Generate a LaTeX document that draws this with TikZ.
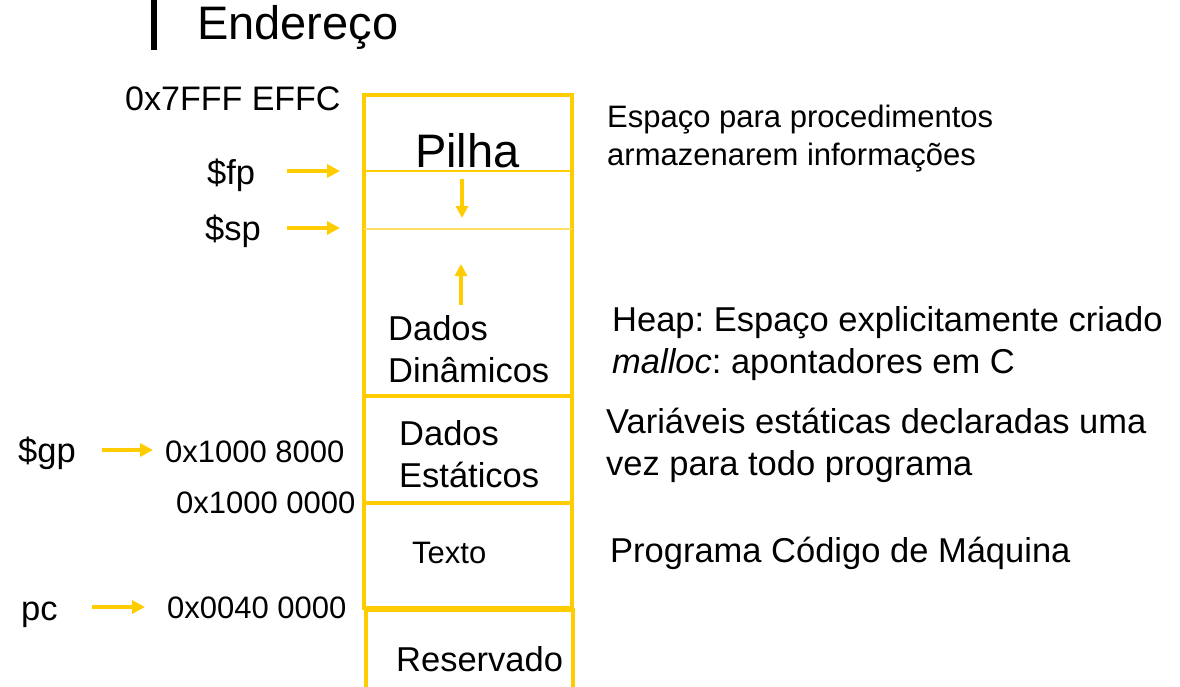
\documentclass[tikz,border=0pt]{standalone}
\usepackage{fontspec}
\setmainfont{Liberation Sans}
\frenchspacing
\usetikzlibrary{arrows.meta,positioning}
\definecolor{segline}{HTML}{FFCC00}
\definecolor{segthin}{HTML}{FFDD66}
\tikzset{
  seg/.style={draw=segline, line width=4pt},
  seg divider/.style={segline, line width=1.4pt},
  ptr arrow/.style={-{Triangle[length=13pt,width=13pt]}, segline, line width=4pt},
  grow arrow/.style={-{Triangle[length=12pt,width=12pt]}, segline, line width=3.5pt},
  big label/.style={anchor=base west, inner sep=0pt, font=\fontsize{47}{56}\selectfont},
  main label/.style={anchor=base west, inner sep=0pt, align=left, font=\fontsize{34.5}{42}\selectfont},
  small label/.style={anchor=base west, inner sep=0pt, align=left, font=\fontsize{31}{38}\selectfont},
}

\begin{document}
\begin{tikzpicture}[x=1pt,y=-1pt]
  \useasboundingbox (0,0) rectangle (1180,686);

  % title
  \draw[line width=6pt] (154,0) -- (154,50);
  \node[big label] (titulo) at (197,39) {Endereço};

  % memory segments
  \draw[seg] (364,95) rectangle (572,396);
  \draw[seg] (364,396) rectangle (572,503);
  \draw[seg] (364,503) rectangle (572,608);
  \draw[seg] (366,690) |- (573,610) -- (573,690);
  \draw[seg divider] (364,171) -- (572,171);
  \draw[segthin,line width=2pt] (364,229) -- (572,229);

  % (two-line labels sit on the baseline of their last line)
  \node[big label] (pilha) at (415,167) {Pilha};
  \node[main label] (dinamicos) at (388,382) {Dados\\Dinâmicos};
  \node[main label] (estaticos) at (399,487) {Dados\\Estáticos};
  \node[small label] (texto) at (412,563) {Texto};
  \node[main label] (reservado) at (396,671) {Reservado};

  % stack grows down, heap grows up
  \coordinate (pilha top) at (462,179);
  \coordinate (pilha end) at (462,218);
  \coordinate (heap top) at (461,305);
  \coordinate (heap end) at (461,264);
  \draw[grow arrow] (pilha top) -- (pilha end);
  \draw[grow arrow] (heap top) -- (heap end);

  % addresses and registers
  \node[small label,font=\fontsize{34}{40}\selectfont] (topaddr) at (125,110) {0x7FFF EFFC};
  \node[main label] (fp) at (207,184) {\$fp};
  \node[main label] (sp) at (205,240) {\$sp};
  \node[main label] (gp) at (18,462) {\$gp};
  \node[small label] (gpaddr) at (165,462) {0x1000 8000};
  \node[small label] (dataaddr) at (176,513) {0x1000 0000};
  \node[main label] (pc) at (21,620) {pc};
  \node[small label] (pcaddr) at (167,618) {0x0040 0000};

  \coordinate (fp from) at (287,171);
  \coordinate (fp to) at (340,171);
  \coordinate (sp from) at (287,228);
  \coordinate (sp to) at (340,228);
  \coordinate (gp from) at (102,450);
  \coordinate (gp to) at (153,450);
  \coordinate (pc from) at (92,607);
  \coordinate (pc to) at (145,607);
  \foreach \r in {fp,sp,gp,pc}
    \draw[ptr arrow] (\r\space from) -- (\r\space to);

  % descriptions
  \node[small label] (desc pilha) at (607,165)
    {Espaço para procedimentos\\armazenarem informações};
  \node[main label] (desc heap) at (612,373)
    {Heap: Espaço explicitamente criado\\\textit{malloc}: apontadores em C};
  \node[main label] (desc dados) at (606,475)
    {Variáveis estáticas declaradas uma\\vez para todo programa};
  \node[main label] (desc texto) at (610,562) {Programa Código de Máquina};
\end{tikzpicture}
\end{document}
